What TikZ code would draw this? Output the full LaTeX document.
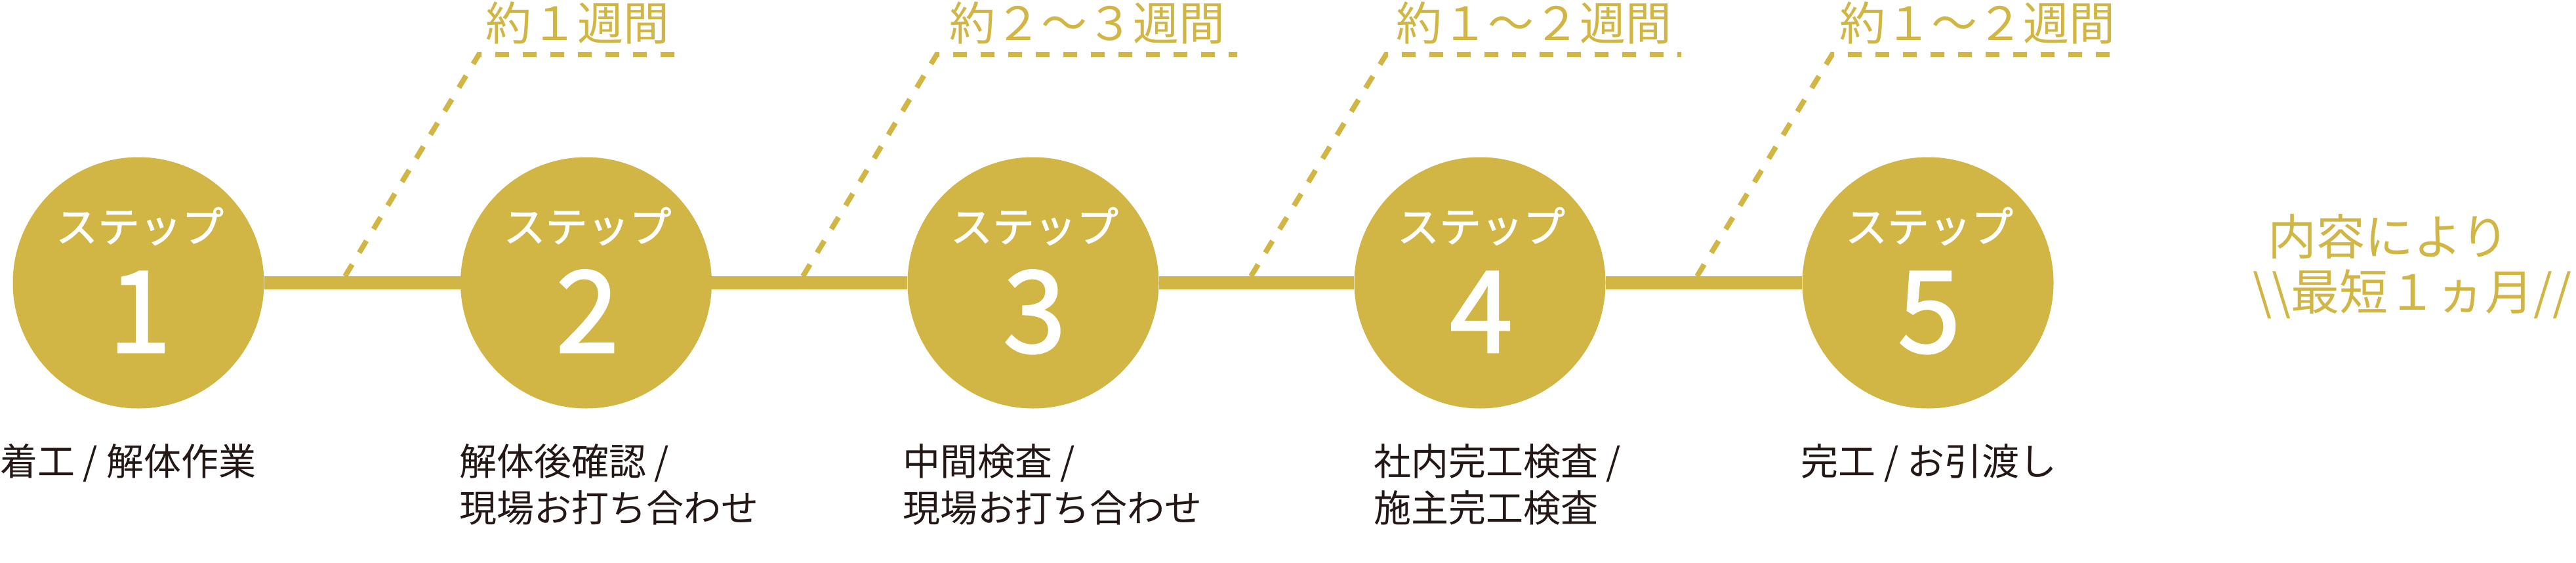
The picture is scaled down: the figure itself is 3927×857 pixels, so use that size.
\documentclass[tikz,border=0pt]{standalone}
\usepackage{fontspec}
\setmainfont{Noto Sans CJK JP}
\newfontfamily\numfont{Noto Sans CJK JP}[FakeBold=1.6]
\newfontfamily\stepfont{Noto Sans CJK JP}[FakeBold=1.4]
\definecolor{gold}{RGB}{209,182,69}
\definecolor{ink}{RGB}{35,24,21}
\begin{document}
\begin{tikzpicture}[x=1pt,y=-1pt,
  stepc/.style={circle,fill=gold,minimum size=383pt,inner sep=0pt},
  steptxt/.style={text=white,font=\stepfont\fontsize{64}{64}\selectfont,anchor=base,inner sep=0pt},
  stepnum/.style={text=white,font=\numfont\fontsize{173}{173}\selectfont,anchor=base,inner sep=0pt},
  lbl/.style={text=ink,font=\fontsize{57}{71}\selectfont,anchor=base west,inner sep=0pt},
  toplbl/.style={text=gold,font=\fontsize{70}{70}\selectfont,anchor=base,inner sep=0pt},
  notetxt/.style={text=gold,font=\fontsize{74}{74}\selectfont,anchor=base west,inner sep=0pt},
  mainline/.style={draw=gold,line width=20pt},
  dashline/.style={draw=gold,line width=8pt,dash pattern=on 21pt off 21pt}]
\useasboundingbox (0,0) rectangle (3927,857);

% circles
\node[stepc] (c1) at (211,431) {};
\node[stepc] (c2) at (893.5,431) {};
\node[stepc] (c3) at (1575,431) {};
\node[stepc] (c4) at (2256,431) {};
\node[stepc] (c5) at (2939,431) {};

% main line
\draw[mainline] (c1) -- (c2);
\draw[mainline] (c2) -- (c3);
\draw[mainline] (c3) -- (c4);
\draw[mainline] (c4) -- (c5);

% step texts
\node[steptxt] (s1) at (213,369) {ステップ};
\node[steptxt] (s2) at (895.5,369) {ステップ};
\node[steptxt] (s3) at (1577,369) {ステップ};
\node[steptxt] (s4) at (2258,369) {ステップ};
\node[steptxt] (s5) at (2941,369) {ステップ};
\node[stepnum] (n1) at (213,537) {1};
\node[stepnum] (n2) at (895.5,537) {2};
\node[stepnum] (n3) at (1577,537) {3};
\node[stepnum] (n4) at (2258,537) {4};
\node[stepnum] (n5) at (2941,537) {5};

% dashed leaders
\coordinate (d1b) at (526,421); \coordinate (d1c) at (730,83); \coordinate (d1e) at (1030,83);
\coordinate (d2b) at (1224,421); \coordinate (d2c) at (1428,83); \coordinate (d2e) at (1886,83);
\coordinate (d3b) at (1907,421); \coordinate (d3c) at (2113,83); \coordinate (d3e) at (2563,83);
\coordinate (d4b) at (2587,421); \coordinate (d4c) at (2793,83); \coordinate (d4e) at (3235,83);
\draw[dashline] (d1b) -- (d1c) -- (d1e);
\draw[dashline] (d2b) -- (d2c) -- (d2e);
\draw[dashline] (d3b) -- (d3c) -- (d3e);
\draw[dashline] (d4b) -- (d4c) -- (d4e);

% durations
\node[toplbl] (t1) at (880,61) {約１週間};
\node[toplbl] (t2) at (1657,61) {約２～３週間};
\node[toplbl] (t3) at (2338,61) {約１～２週間};
\node[toplbl] (t4) at (3014,61) {約１～２週間};

% labels
\node[lbl] (l1a) at (0,724) {着工 / 解体作業};
\node[lbl] (l2a) at (700,724) {解体後確認 /};
\node[lbl] (l2b) at (700,795) {現場お打ち合わせ};
\node[lbl] (l3a) at (1376,724) {中間検査 /};
\node[lbl] (l3b) at (1376,795) {現場お打ち合わせ};
\node[lbl] (l4a) at (2094,724) {社内完工検査 /};
\node[lbl] (l4b) at (2094,795) {施主完工検査};
\node[lbl] (l5a) at (2745,724) {完工 / お引渡し};

% note
\node[notetxt] (m1) at (3457,388) {内容により};
\node[notetxt] (m2) at (3434,472) {\textbackslash\textbackslash 最短１ヵ月//};
\end{tikzpicture}
\end{document}
